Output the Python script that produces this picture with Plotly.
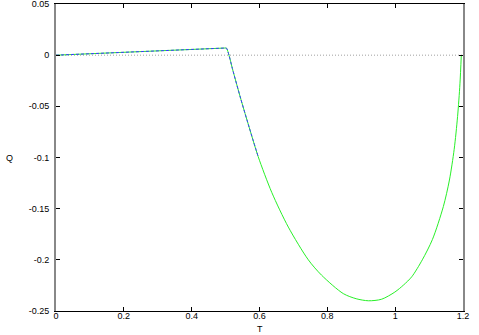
import plotly.graph_objects as go

# Linear rise before the break
T_rise = [0, 0.5]
Q_rise = [0, 0.007]

# Curved part of the green (full) curve
T_green = [0.5, 0.503, 0.510, 0.520, 0.545, 0.570, 0.596, 0.636, 0.685, 0.744, 0.783, 0.847,
           0.885, 0.921, 0.960, 0.999, 1.025, 1.049, 1.080, 1.110, 1.142, 1.160, 1.174, 1.184,
           1.191, 1.195]
Q_green = [0.007, 0.0067, 0.0, -0.013, -0.043, -0.071, -0.099, -0.134, -0.168, -0.200,
           -0.215, -0.233, -0.238, -0.240, -0.2385, -0.2315, -0.2245, -0.2165, -0.200, -0.180,
           -0.148, -0.122, -0.092, -0.060, -0.028, 0.0]

# Blue dashed curve (covers T from 0 to 0.6)
T_blue = [0.5, 0.503, 0.510, 0.520, 0.545, 0.570, 0.596]
Q_blue = [0.007, 0.0067, 0.0, -0.013, -0.043, -0.071, -0.099]

# Zero reference line
T_zero = [0, 1.2]
Q_zero = [0, 0]

x_ticks = [0, 0.2, 0.4, 0.6, 0.8, 1.0, 1.2]
x_tick_labels = ["0", "0.2", "0.4", "0.6", "0.8", "1", "1.2"]
y_ticks = [0.05, 0, -0.05, -0.1, -0.15, -0.2, -0.25]
y_tick_labels = ["0.05", "0", "-0.05", "-0.1", "-0.15", "-0.2", "-0.25"]

GREEN = "rgb(40,240,40)"
BLUE = "rgb(60,60,255)"

fig = go.Figure()
fig.add_trace(go.Scatter(x=T_zero, y=Q_zero, mode="lines",
                         line=dict(color="#a0a0a0", width=1, dash="1px,2px"),
                         showlegend=False, hoverinfo="skip"))
fig.add_trace(go.Scatter(x=T_rise, y=Q_rise, mode="lines",
                         line=dict(color=GREEN, width=1), showlegend=False))
fig.add_trace(go.Scatter(x=T_green, y=Q_green, mode="lines",
                         line=dict(color=GREEN, width=1, shape="spline", smoothing=0.8),
                         showlegend=False))
fig.add_trace(go.Scatter(x=T_rise, y=Q_rise, mode="lines",
                         line=dict(color=BLUE, width=1, dash="3px,2px"), showlegend=False))
fig.add_trace(go.Scatter(x=T_blue, y=Q_blue, mode="lines",
                         line=dict(color=BLUE, width=1, dash="3px,2px",
                                   shape="spline", smoothing=0.8),
                         showlegend=False))

font = dict(family="Liberation Sans, Arial, sans-serif", size=9, color="black")

fig.update_layout(
    width=479, height=335,
    margin=dict(l=56, r=16, t=4, b=24),
    plot_bgcolor="white", paper_bgcolor="white",
    font=font,
    xaxis=dict(range=[0, 1.2], tickvals=x_ticks, ticktext=x_tick_labels,
               ticks="inside", ticklen=4, tickcolor="black", tickwidth=1,
               showline=True, linecolor="black", linewidth=1, mirror="ticks",
               showgrid=False, zeroline=False, ticklabelstandoff=-4,
               ticklabeloverflow="allow", automargin=False),
    yaxis=dict(range=[-0.25, 0.05001], tickvals=y_ticks, ticktext=y_tick_labels,
               ticks="inside", ticklen=4, tickcolor="black", tickwidth=1,
               showline=True, linecolor="#888888", linewidth=2, mirror="ticks",
               showgrid=False, zeroline=False, ticklabelstandoff=3,
               ticklabeloverflow="allow", automargin=False),
    annotations=[
        dict(text="T", x=0.5, xref="paper", y=-(329 - 311) / 307, yref="paper",
             yanchor="middle", showarrow=False, font=font),
        dict(text="Q", x=-(56 - 9) / 407, xref="paper", xanchor="center", y=0.5,
             yref="paper", showarrow=False, font=font),
    ],
)

fig.write_html("out.html", config={"displayModeBar": False},
               post_script="document.body.style.margin='0px';")
